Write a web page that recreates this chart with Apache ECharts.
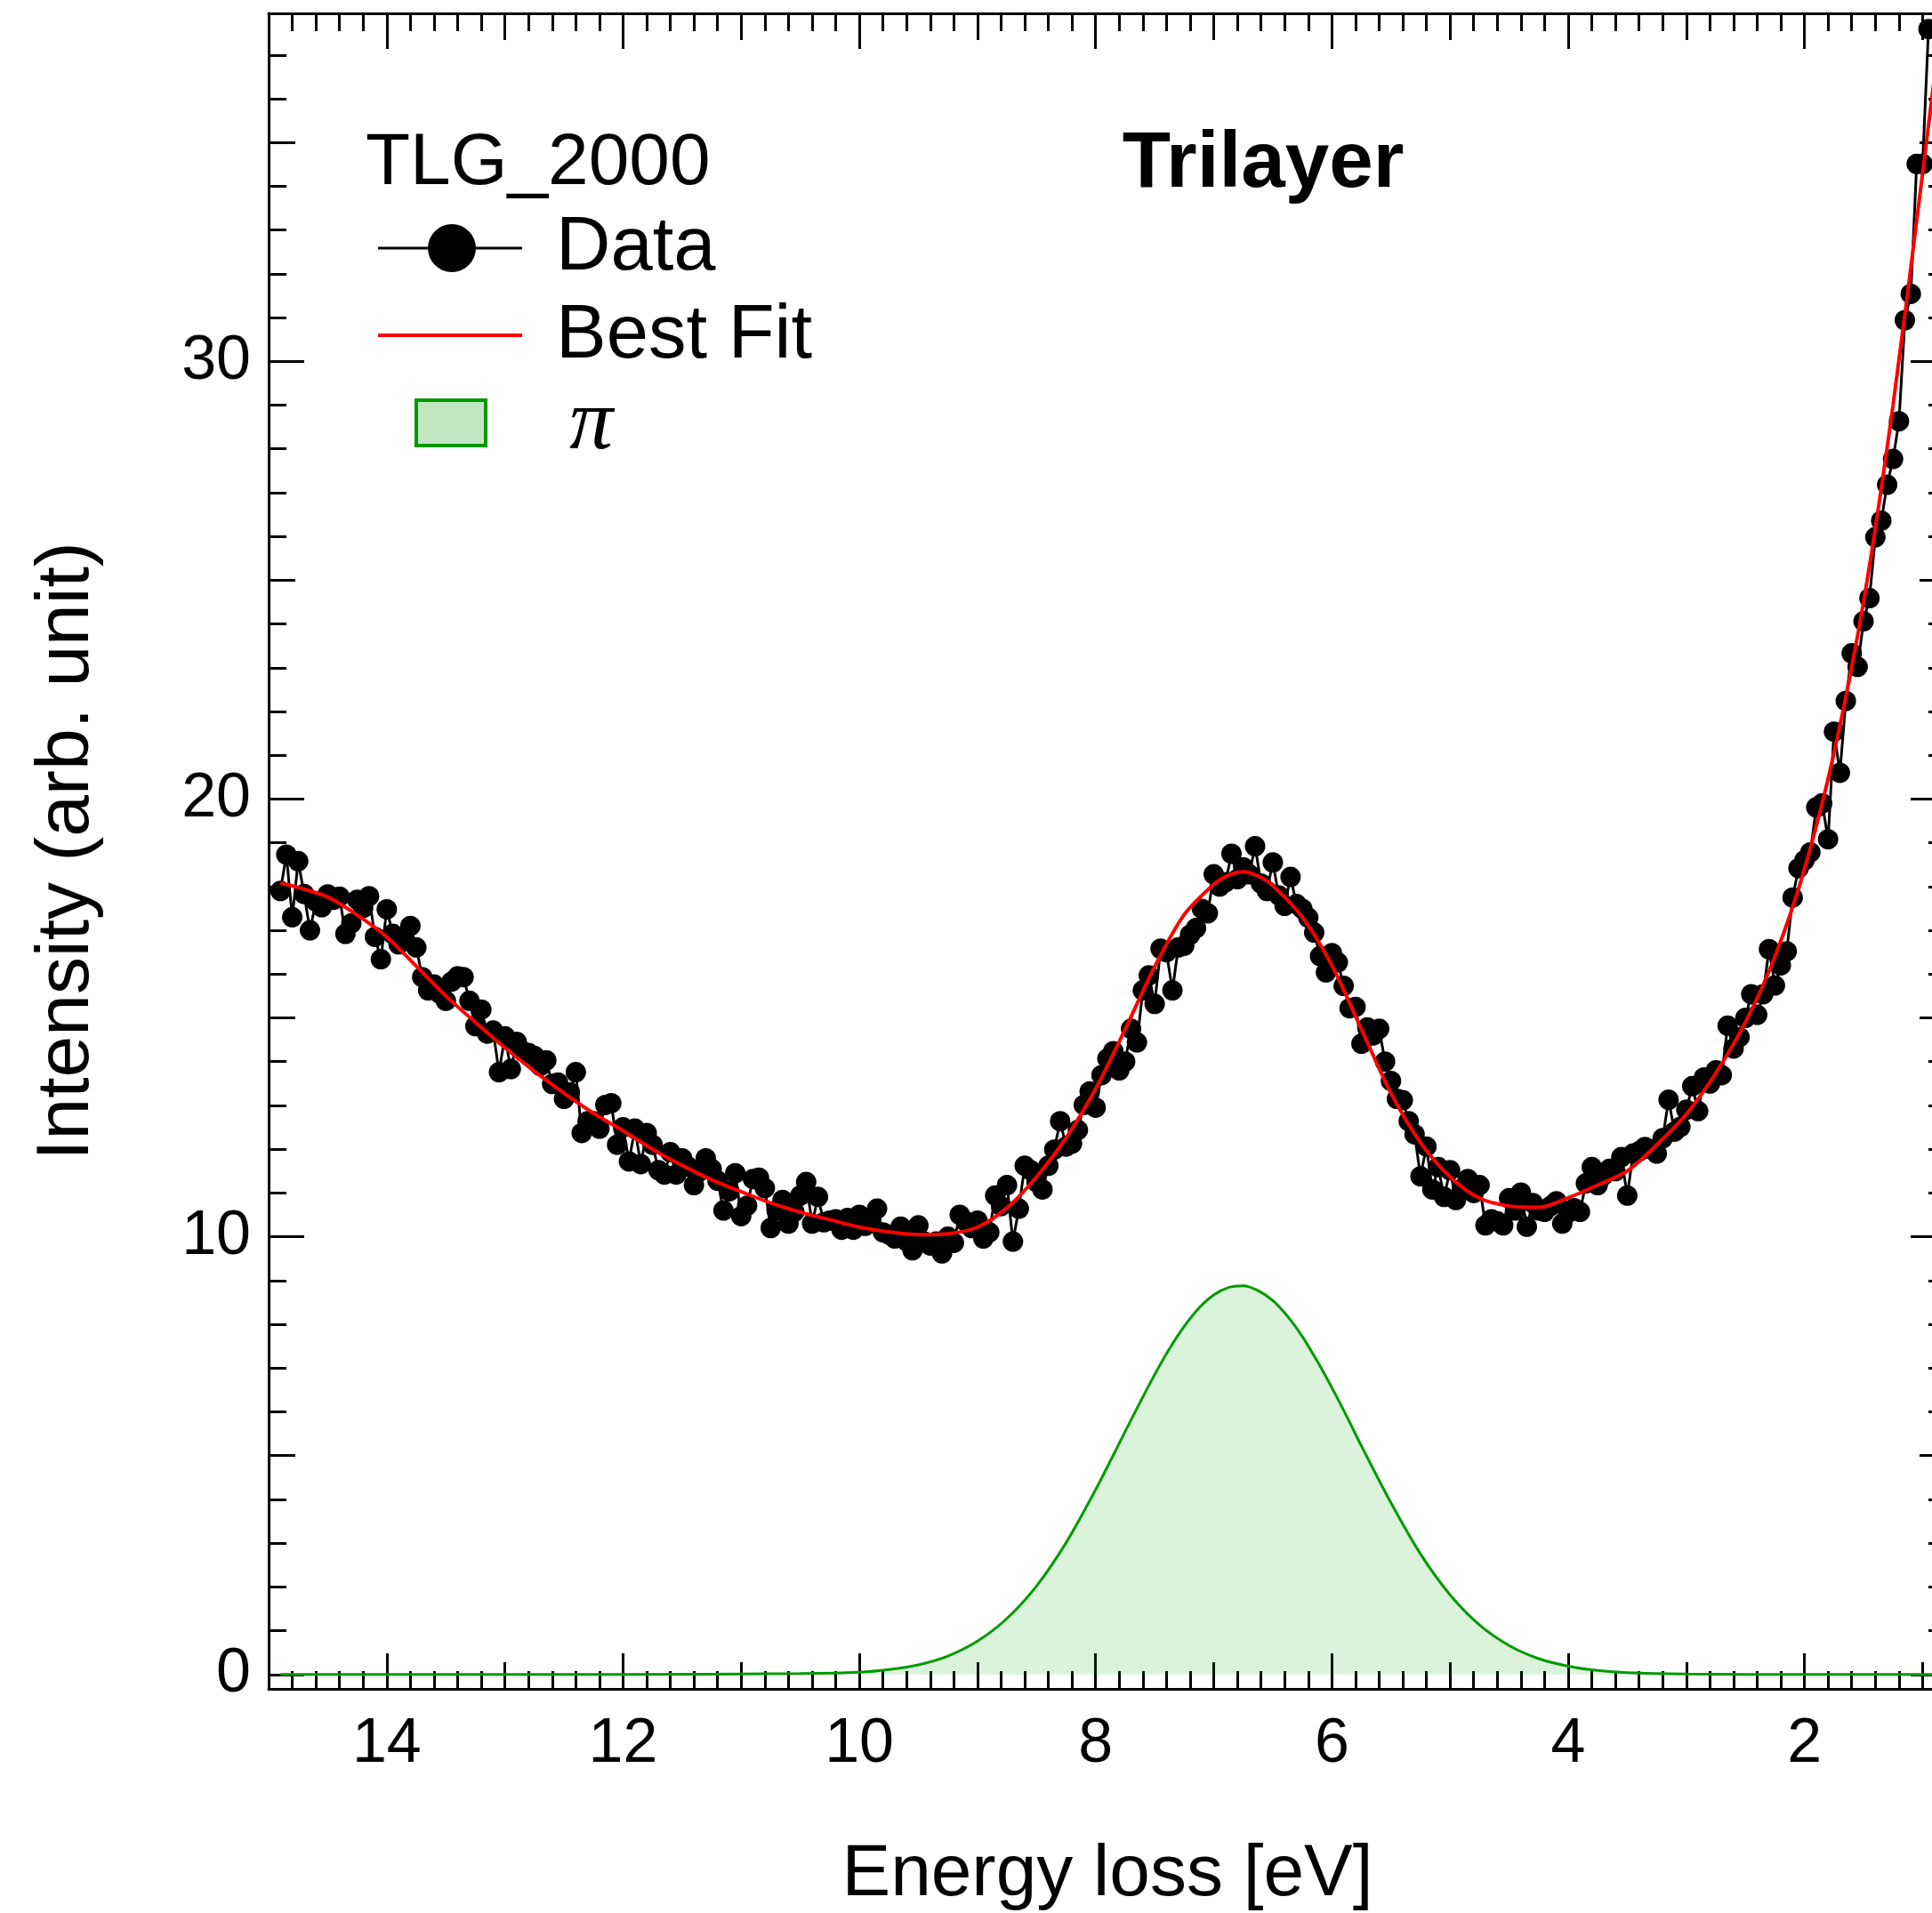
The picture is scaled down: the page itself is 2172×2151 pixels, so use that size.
<!DOCTYPE html>
<html>
<head>
<meta charset="utf-8">
<title>Trilayer - energy loss spectrum</title>
<script src="https://cdn.jsdelivr.net/npm/echarts@6.0.0/dist/echarts.min.js"></script>
<style>
    html, body { margin: 0; padding: 0; background: #fff; }
    #chart { width: 2172px; height: 2151px; }
</style>
</head>
<body>
<div id="chart"></div>
<script>
// measured points: [energy loss (eV), intensity]
var dataPoints = [
    [14.90,17.90],[14.85,18.73],[14.80,17.30],[14.75,18.58],[14.70,17.83],[14.65,17.00],[14.60,17.66],[14.55,17.53],[14.50,17.82],[14.45,17.70],
    [14.40,17.77],[14.35,16.92],[14.30,17.16],[14.25,17.70],[14.20,17.51],[14.15,17.78],[14.10,16.85],[14.05,16.34],[14.00,17.48],[13.95,16.92],
    [13.90,16.68],[13.85,16.80],[13.80,17.10],[13.75,16.61],[13.70,15.93],[13.65,15.63],[13.60,15.76],[13.55,15.55],[13.50,15.39],[13.45,15.83],
    [13.40,15.95],[13.35,15.93],[13.30,15.39],[13.25,14.81],[13.20,15.19],[13.15,14.64],[13.10,14.71],[13.05,13.76],[13.00,14.58],[12.95,13.83],
    [12.90,14.45],[12.85,14.24],[12.80,14.20],[12.75,14.13],[12.70,13.90],[12.65,14.03],[12.60,13.49],[12.55,13.52],[12.50,13.15],[12.45,13.30],
    [12.40,13.76],[12.35,12.37],[12.30,12.64],[12.25,12.64],[12.20,12.47],[12.15,13.01],[12.10,13.05],[12.05,12.10],[12.00,12.50],[11.95,11.72],
    [11.90,12.47],[11.85,11.66],[11.80,12.37],[11.75,12.10],[11.70,11.52],[11.65,11.42],[11.60,11.93],[11.55,11.42],[11.50,11.79],[11.45,11.60],
    [11.40,11.18],[11.35,11.50],[11.30,11.79],[11.25,11.55],[11.20,11.28],[11.15,10.60],[11.10,11.04],[11.05,11.45],[11.00,10.47],[10.95,10.71],
    [10.90,11.32],[10.85,11.35],[10.80,11.11],[10.75,10.20],[10.70,10.60],[10.65,10.84],[10.60,10.30],[10.55,10.57],[10.50,10.94],[10.45,11.25],
    [10.40,10.30],[10.35,10.91],[10.30,10.33],[10.25,10.37],[10.20,10.40],[10.15,10.16],[10.10,10.43],[10.05,10.16],[10.00,10.50],[9.95,10.25],
    [9.90,10.43],[9.85,10.64],[9.80,10.10],[9.75,10.05],[9.70,9.96],[9.65,10.23],[9.60,9.90],[9.55,9.69],[9.50,10.26],[9.45,9.89],
    [9.40,9.80],[9.35,9.89],[9.30,9.62],[9.25,10.00],[9.20,9.86],[9.15,10.50],[9.10,10.35],[9.05,10.20],[9.00,10.37],[8.95,9.96],
    [8.90,10.10],[8.85,10.94],[8.80,10.70],[8.75,11.18],[8.70,9.89],[8.65,10.64],[8.60,11.62],[8.55,11.52],[8.50,11.25],[8.45,11.08],
    [8.40,11.62],[8.35,11.99],[8.30,12.64],[8.25,12.06],[8.20,12.13],[8.15,12.44],[8.10,13.01],[8.05,13.32],[8.00,12.95],[7.95,13.69],
    [7.90,14.07],[7.85,14.24],[7.80,13.80],[7.75,14.00],[7.70,14.75],[7.65,14.44],[7.60,15.63],[7.55,15.97],[7.50,15.32],[7.45,16.58],
    [7.40,16.50],[7.35,15.63],[7.30,16.61],[7.25,16.65],[7.20,16.90],[7.15,17.05],[7.10,17.49],[7.05,17.39],[7.00,18.28],[6.95,18.00],
    [6.90,18.10],[6.85,18.75],[6.80,18.17],[6.75,18.44],[6.70,18.28],[6.65,18.92],[6.60,18.07],[6.55,17.90],[6.50,18.55],[6.45,17.80],
    [6.40,17.56],[6.35,18.22],[6.30,17.60],[6.25,17.49],[6.20,17.29],[6.15,16.95],[6.10,16.41],[6.05,16.04],[6.00,16.48],[5.95,16.27],
    [5.90,15.73],[5.85,15.22],[5.80,15.25],[5.75,14.41],[5.70,14.78],[5.65,14.60],[5.60,14.75],[5.55,14.00],[5.50,13.56],[5.45,13.15],
    [5.40,13.12],[5.35,12.64],[5.30,12.34],[5.25,11.38],[5.20,12.06],[5.15,11.08],[5.10,11.59],[5.05,10.91],[5.00,11.52],[4.95,10.84],
    [4.90,11.10],[4.85,11.32],[4.80,11.00],[4.75,11.18],[4.70,10.26],[4.65,10.40],[4.60,10.35],[4.55,10.26],[4.50,10.88],[4.45,10.60],
    [4.40,11.01],[4.35,10.23],[4.30,10.77],[4.25,10.60],[4.20,10.57],[4.15,10.70],[4.10,10.81],[4.05,10.30],[4.00,10.55],[3.95,10.65],
    [3.90,10.57],[3.85,11.22],[3.80,11.59],[3.75,11.18],[3.70,11.40],[3.65,11.55],[3.60,11.50],[3.55,11.82],[3.50,10.94],[3.45,11.90],
    [3.40,11.95],[3.35,12.05],[3.30,12.00],[3.25,11.90],[3.20,12.25],[3.15,13.13],[3.10,12.40],[3.05,12.51],[3.00,12.90],[2.95,13.44],
    [2.90,12.87],[2.85,13.64],[2.80,13.50],[2.75,13.80],[2.70,13.69],[2.65,14.82],[2.60,14.30],[2.55,14.56],[2.50,15.00],[2.45,15.54],
    [2.40,15.07],[2.35,15.54],[2.30,16.57],[2.25,15.74],[2.20,16.20],[2.15,16.52],[2.10,17.75],[2.05,18.42],[2.00,18.60],[1.95,18.78],
    [1.90,19.81],[1.85,19.90],[1.80,19.08],[1.75,21.54],[1.70,20.60],[1.65,22.24],[1.60,23.33],[1.55,23.02],[1.50,24.06],[1.45,24.59],
    [1.40,25.98],[1.35,26.36],[1.30,27.18],[1.25,27.77],[1.20,28.63],[1.15,30.94],[1.10,31.54],[1.05,34.51],[1.00,34.51],[0.95,37.59]
];

// best fit curve
var fitPoints = [
    [14.9,18.08],[14.75,17.98],[14.5,17.76],[14.25,17.35],[14.0,16.85],[13.75,16.18],[13.5,15.50],[13.25,14.90],
    [13.0,14.32],[12.75,13.78],[12.5,13.28],[12.25,12.82],[12.0,12.42],[11.75,12.00],[11.5,11.63],[11.25,11.30],
    [11.0,11.03],[10.75,10.77],[10.5,10.56],[10.25,10.39],[10.0,10.22],[9.75,10.11],[9.5,10.05],[9.25,10.07],
    [9.0,10.22],[8.75,10.66],[8.5,11.37],[8.25,12.26],[8.0,13.38],[7.75,14.74],[7.5,16.17],[7.25,17.36],
    [7.0,18.05],[6.875,18.26],[6.75,18.34],[6.625,18.24],[6.5,18.02],[6.25,17.30],[6.0,16.20],[5.75,14.74],
    [5.5,13.28],[5.25,12.15],[5.0,11.37],[4.75,10.88],[4.5,10.70],[4.25,10.67],[4.0,10.89],[3.75,11.18],
    [3.5,11.50],[3.25,12.10],[3.0,12.80],[2.75,13.74],[2.5,14.90],[2.25,16.40],[2.0,18.40],[1.75,21.05],
    [1.5,24.50],[1.25,29.00],[1.0,34.30],[0.85,37.60]
];

// pi plasmon component (green filled peak)
var piPoints = [
    [14.9,0],[12.0,0],[10.5,0.02],[10.0,0.05],[9.75,0.11],[9.5,0.22],[9.25,0.42],[9.0,0.76],
    [8.75,1.28],[8.5,2.02],[8.25,3.01],[8.0,4.22],[7.75,5.55],[7.625,6.21],[7.5,6.85],[7.375,7.44],
    [7.25,7.95],[7.125,8.37],[7.0,8.67],[6.875,8.84],[6.75,8.88],[6.625,8.77],[6.5,8.54],[6.375,8.18],
    [6.25,7.72],[6.125,7.16],[6.0,6.55],[5.875,5.90],[5.75,5.22],[5.5,3.92],[5.25,2.75],[5.0,1.82],
    [4.75,1.13],[4.5,0.66],[4.25,0.36],[4.0,0.19],[3.75,0.09],[3.5,0.04],[3.0,0.01],[2.0,0],[0.85,0]
];

var xMajorTicks = [2, 4, 6, 8, 10, 12, 14];
var xMidTicks = [1, 3, 5, 7, 9, 11, 13, 15];
var yMajorTicks = [0, 10, 20, 30];
var yMidTicks = [5, 15, 25, 35];

var X_MIN = 0.8, X_MAX = 15, Y_MIN = -0.33, Y_MAX = 37.95;
var FONT = '"Liberation Sans", Arial, Helvetica, sans-serif';

var xMinorTicks = [];
for (var k = 5; k <= 75; k++) {
    if (k % 5 !== 0) xMinorTicks.push(k / 5);
}
var yMinorTicks = [];
for (var v = 1; v <= 37; v++) {
    if (v % 5 !== 0) yMinorTicks.push(v);
}

function tickAxis(dim, position, ticks, len, extra) {
    var ax = {
        type: 'value',
        position: position,
        min: dim === 'x' ? X_MIN : Y_MIN,
        max: dim === 'x' ? X_MAX : Y_MAX,
        inverse: dim === 'x',
        splitLine: {show: false},
        axisLine: {show: false, onZero: false},
        axisLabel: {show: false},
        axisTick: {
            show: true, inside: true, length: len, customValues: ticks,
            lineStyle: {color: '#000', width: 3}
        }
    };
    for (var key in extra) ax[key] = extra[key];
    return ax;
}

var xBottom = tickAxis('x', 'bottom', xMajorTicks, 40, {
    axisLine: {show: true, onZero: false, lineStyle: {color: '#000', width: 3}},
    axisLabel: {
        show: true, customValues: xMajorTicks, margin: 28,
        fontSize: 70, fontFamily: FONT, color: '#000'
    },
    name: 'Energy loss [eV]',
    nameLocation: 'middle',
    nameGap: 168,
    nameTextStyle: {fontSize: 82, fontFamily: FONT, color: '#000'}
});
var xTop = tickAxis('x', 'top', xMajorTicks, 40, {
    axisLine: {show: true, onZero: false, lineStyle: {color: '#000', width: 3}}
});
var yLeft = tickAxis('y', 'left', yMajorTicks, 40, {
    axisLine: {show: true, onZero: false, lineStyle: {color: '#000', width: 3}},
    axisLabel: {
        show: true, customValues: yMajorTicks, margin: 20,
        fontSize: 70, fontFamily: FONT, color: '#000'
    },
    name: 'Intensity (arb. unit)',
    nameLocation: 'middle',
    nameGap: 184,
    nameTextStyle: {fontSize: 84, fontFamily: FONT, color: '#000'}
});
var yRight = tickAxis('y', 'right', yMajorTicks, 40, {
    axisLine: {show: true, onZero: false, lineStyle: {color: '#000', width: 3}}
});

var option = {
    animation: false,
    backgroundColor: '#fff',
    grid: {left: 302, right: -16, top: 15, bottom: 252, containLabel: false, outerBoundsMode: 'none'},
    xAxis: [
        xBottom,
        tickAxis('x', 'bottom', xMidTicks, 30),
        tickAxis('x', 'bottom', xMinorTicks, 20),
        xTop,
        tickAxis('x', 'top', xMidTicks, 30),
        tickAxis('x', 'top', xMinorTicks, 20)
    ],
    yAxis: [
        yLeft,
        tickAxis('y', 'left', yMidTicks, 30),
        tickAxis('y', 'left', yMinorTicks, 20),
        yRight,
        tickAxis('y', 'right', yMidTicks, 30),
        tickAxis('y', 'right', yMinorTicks, 20)
    ],
    series: [
        {
            name: 'π',
            type: 'line',
            data: piPoints,
            smooth: 0.3,
            symbol: 'none',
            z: 2,
            lineStyle: {color: '#009a00', width: 3},
            areaStyle: {color: 'rgba(0, 160, 0, 0.2)'}
        },
        {
            name: 'Data',
            type: 'line',
            data: dataPoints,
            symbol: 'circle',
            symbolSize: 23,
            showAllSymbol: true,
            z: 3,
            itemStyle: {color: '#000'},
            lineStyle: {color: '#000', width: 3}
        },
        {
            name: 'Best Fit',
            type: 'line',
            data: fitPoints,
            smooth: 0.3,
            symbol: 'none',
            z: 4,
            lineStyle: {color: '#ff0000', width: 4}
        }
    ],
    graphic: [
        {type: 'text', x: 411, y: 184, style: {text: 'TLG_2000', font: '82px ' + FONT, fill: '#000', align: 'left', verticalAlign: 'middle'}},
        {type: 'text', x: 1420, y: 185, style: {text: 'Trilayer', font: 'bold 89px ' + FONT, fill: '#000', align: 'center', verticalAlign: 'middle'}},
        {type: 'line', shape: {x1: 425, y1: 279, x2: 587, y2: 279}, style: {stroke: '#000', lineWidth: 3}},
        {type: 'circle', shape: {cx: 508, cy: 279, r: 27}, style: {fill: '#000'}},
        {type: 'text', x: 625, y: 280, style: {text: 'Data', font: '85px ' + FONT, fill: '#000', align: 'left', verticalAlign: 'middle'}},
        {type: 'line', shape: {x1: 425, y1: 377, x2: 587, y2: 377}, style: {stroke: '#ff0000', lineWidth: 4}},
        {type: 'text', x: 625, y: 379, style: {text: 'Best Fit', font: '85px ' + FONT, fill: '#000', align: 'left', verticalAlign: 'middle'}},
        {type: 'rect', shape: {x: 468, y: 450, width: 78, height: 51}, style: {fill: '#c2e5c2', stroke: '#009a00', lineWidth: 4}},
        {type: 'text', x: 640, y: 478, style: {text: 'π', font: 'italic 98px "Liberation Serif", "DejaVu Serif", serif', fill: '#000', align: 'left', verticalAlign: 'middle'}}
    ]
};

var chart = echarts.init(document.getElementById('chart'), null, {renderer: 'canvas'});
chart.setOption(option);
window.onresize = chart.resize;
</script>
</body>
</html>
